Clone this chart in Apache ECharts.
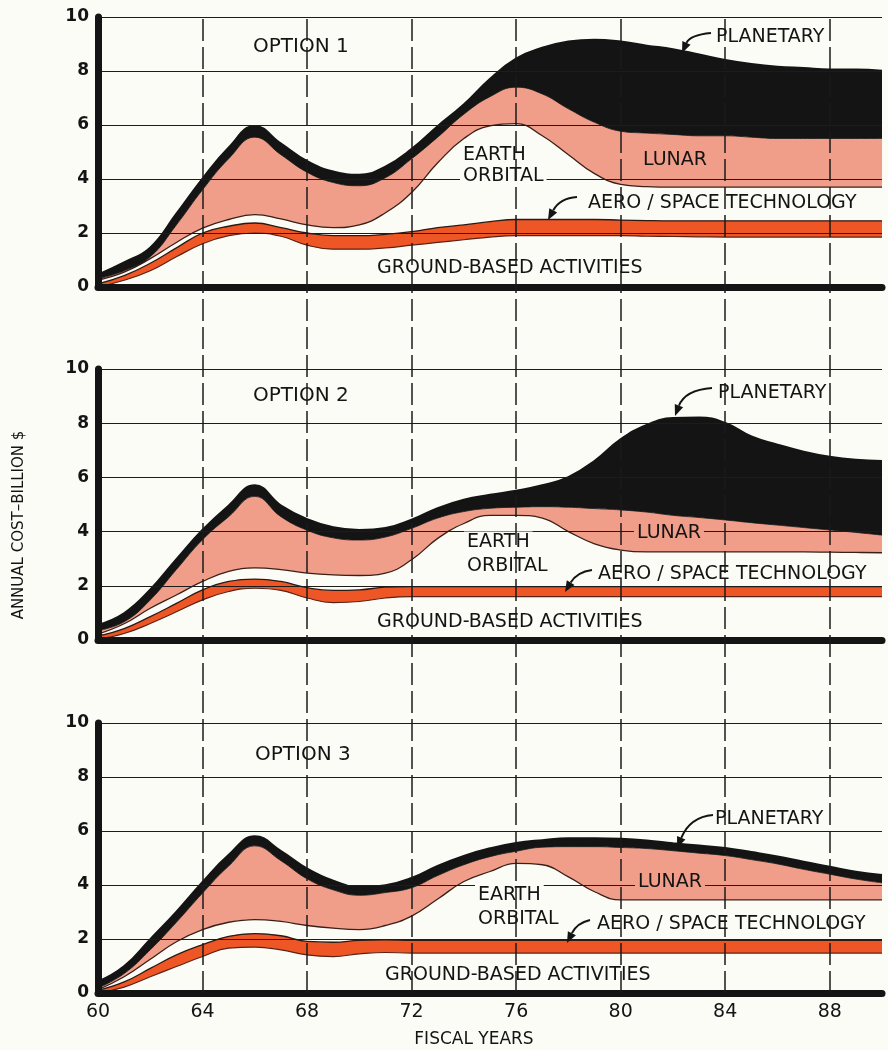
<!DOCTYPE html>
<html>
<head>
<meta charset="utf-8">
<title>Annual cost options</title>
<script src="https://cdn.jsdelivr.net/npm/echarts@6/dist/echarts.min.js"></script>
<style>
  html, body { margin: 0; padding: 0; background: #fcfcf7; }
  #chart { width: 888px; height: 1050px; }
</style>
</head>
<body>
<div id="chart"></div>
<script>
// fiscal years 60..90, one value per year
const years = ['60','61','62','63','64','65','66','67','68','69','70','71','72','73','74','75','76','77','78','79','80','81','82','83','84','85','86','87','88','89','90']
const dashYears = ['64','68','72','76','80','84','88']

// option 1 (billion $ per layer, stacked bottom to top)
const opt1Ground    = [0.00,0.25,0.60,1.12,1.60,1.90,2.00,1.88,1.55,1.40,1.40,1.45,1.55,1.65,1.75,1.85,1.90,1.90,1.90,1.90,1.90,1.88,1.87,1.86,1.85,1.85,1.85,1.85,1.85,1.85,1.85]
const opt1Aero      = [0.12,0.17,0.28,0.33,0.40,0.35,0.37,0.32,0.45,0.50,0.50,0.50,0.50,0.55,0.55,0.57,0.60,0.60,0.60,0.60,0.58,0.58,0.58,0.59,0.60,0.60,0.60,0.60,0.60,0.60,0.60]
const opt1Earth     = [0.13,0.13,0.17,0.20,0.18,0.25,0.31,0.32,0.30,0.30,0.40,0.80,1.45,2.40,3.20,3.55,3.55,3.10,2.40,1.70,1.32,1.26,1.25,1.25,1.25,1.25,1.25,1.25,1.25,1.25,1.25]
const opt1Lunar     = [0.05,0.05,0.07,0.65,1.42,2.25,2.87,2.38,1.95,1.67,1.45,1.30,1.25,0.95,0.90,1.08,1.35,1.55,1.70,1.90,1.97,1.98,1.95,1.90,1.90,1.85,1.80,1.80,1.80,1.80,1.80]
const opt1Planetary = [0.15,0.30,0.33,0.40,0.40,0.40,0.40,0.40,0.40,0.40,0.40,0.40,0.35,0.40,0.35,0.65,1.05,1.70,2.48,3.05,3.31,3.23,3.15,3.00,2.80,2.70,2.65,2.60,2.55,2.55,2.50]

// option 2
const opt2Ground    = [0.03,0.24,0.61,1.04,1.48,1.79,1.91,1.83,1.55,1.38,1.42,1.55,1.60,1.60,1.60,1.60,1.60,1.60,1.60,1.60,1.60,1.60,1.60,1.60,1.60,1.60,1.60,1.60,1.60,1.60,1.60]
const opt2Aero      = [0.12,0.18,0.25,0.31,0.37,0.37,0.34,0.33,0.38,0.45,0.43,0.40,0.37,0.37,0.37,0.37,0.37,0.37,0.37,0.37,0.37,0.37,0.37,0.37,0.37,0.37,0.37,0.37,0.37,0.37,0.37]
const opt2Earth     = [0.07,0.18,0.31,0.31,0.31,0.37,0.41,0.44,0.54,0.57,0.53,0.52,0.99,1.78,2.33,2.63,2.63,2.53,2.03,1.58,1.35,1.28,1.28,1.28,1.28,1.28,1.28,1.28,1.27,1.26,1.25]
const opt2Lunar     = [0.13,0.07,0.31,0.94,1.54,2.02,2.64,1.95,1.58,1.37,1.31,1.33,1.16,0.75,0.44,0.26,0.30,0.42,0.90,1.30,1.48,1.47,1.35,1.27,1.18,1.08,0.99,0.90,0.82,0.74,0.65]
const opt2Planetary = [0.20,0.31,0.37,0.37,0.35,0.40,0.40,0.40,0.40,0.38,0.36,0.32,0.31,0.36,0.43,0.49,0.60,0.78,1.10,1.75,2.60,3.21,3.58,3.68,3.57,3.17,2.96,2.79,2.69,2.67,2.73]

// option 3
const opt3Ground    = [0.00,0.22,0.60,0.98,1.35,1.66,1.70,1.60,1.41,1.35,1.45,1.50,1.48,1.48,1.48,1.48,1.48,1.48,1.48,1.48,1.48,1.48,1.48,1.48,1.48,1.48,1.48,1.48,1.48,1.48,1.48]
const opt3Aero      = [0.10,0.19,0.31,0.43,0.44,0.44,0.50,0.52,0.50,0.53,0.50,0.47,0.47,0.47,0.47,0.47,0.47,0.47,0.47,0.47,0.47,0.47,0.47,0.47,0.47,0.47,0.47,0.47,0.47,0.47,0.47]
const opt3Earth     = [0.02,0.19,0.34,0.49,0.56,0.52,0.52,0.53,0.59,0.52,0.40,0.53,0.90,1.53,2.18,2.55,2.85,2.80,2.35,1.80,1.50,1.50,1.50,1.50,1.50,1.50,1.50,1.50,1.50,1.50,1.50]
const opt3Lunar     = [0.06,0.12,0.35,0.72,1.35,2.08,2.73,2.25,1.73,1.42,1.27,1.22,1.05,0.87,0.62,0.55,0.45,0.65,1.12,1.67,1.94,1.90,1.82,1.73,1.64,1.49,1.33,1.13,0.95,0.77,0.63]
const opt3Planetary = [0.23,0.26,0.38,0.38,0.40,0.40,0.35,0.35,0.37,0.33,0.30,0.26,0.35,0.35,0.32,0.30,0.30,0.25,0.30,0.30,0.31,0.29,0.27,0.27,0.27,0.27,0.27,0.27,0.27,0.26,0.28]

const pageBg = '#fcfcf7'
const pink = '#f09d89'
const orange = '#ef5626'
const ink = '#141414'
const font = 'DejaVu Sans'

const panels = [
    { top: 17,  height: 270, layers: [opt1Ground, opt1Aero, opt1Earth, opt1Lunar, opt1Planetary] },
    { top: 369, height: 271, layers: [opt2Ground, opt2Aero, opt2Earth, opt2Lunar, opt2Planetary] },
    { top: 723, height: 270, layers: [opt3Ground, opt3Aero, opt3Earth, opt3Lunar, opt3Planetary] }
]

let myChart = echarts.init(document.getElementById('chart'))

let grids = panels.map(p => ({ left: 98, right: 6, top: p.top, height: p.height }))
grids.push({ left: 98, right: 6, top: 17, height: 976 })

let xAxes = panels.map((p, i) => ({
    gridIndex: i, type: 'category', data: years, boundaryGap: false, z: 3,
    axisLine: { show: true, onZero: false, lineStyle: { color: ink, width: 7 } },
    axisTick: { show: false },
    splitLine: { show: false },
    axisLabel: { show: i === 2, interval: 3, fontSize: 19, color: ink, fontFamily: font, margin: 10 }
}))
xAxes.push({ gridIndex: 3, type: 'category', data: years, boundaryGap: false, show: false })

let yAxes = panels.map((p, i) => ({
    gridIndex: i, type: 'value', min: 0, max: 10, interval: 2, z: 3,
    axisLine: { show: true, lineStyle: { color: ink, width: 7 } },
    axisTick: { show: false },
    splitLine: { show: true, lineStyle: { color: '#1c1c1c', width: 1 } },
    axisLabel: { fontSize: 17, fontWeight: 'bold', color: ink, fontFamily: font, margin: 9 }
}))
yAxes.push({ gridIndex: 3, type: 'value', min: 0, max: 1, show: false })

// layer looks, bottom to top: ground, aero/space, earth orbital, lunar, planetary
const layerNames = ['Ground-based activities', 'Aero/space technology', 'Earth orbital', 'Lunar', 'Planetary']
const layerArea = [null, orange, null, pink, ink]
const layerLine = [['#5a2216', 1.2], ['#2a1a14', 1.3], ['#3a2018', 1.3], [ink, 0.8], [ink, 2.5]]

let seriesData = []
panels.forEach((p, i) => {
    p.layers.forEach((vals, k) => {
        let s = {
            name: layerNames[k], type: 'line', xAxisIndex: i, yAxisIndex: i,
            stack: 'opt' + i, smooth: 0.45, showSymbol: false, silent: true, z: 2,
            data: vals,
            lineStyle: { color: layerLine[k][0], width: layerLine[k][1] }
        }
        if (layerArea[k]) s.areaStyle = { color: layerArea[k], opacity: 1 }
        seriesData.push(s)
    })
})

// long dashed year lines running through all three panels
seriesData.push({
    type: 'line', xAxisIndex: 3, yAxisIndex: 3, data: [0], symbol: 'none',
    lineStyle: { opacity: 0 }, z: 6, silent: true,
    markLine: {
        silent: true, symbol: ['none', 'none'], label: { show: false },
        lineStyle: { color: '#1a1a1a', width: 1.5, type: [22, 6] },
        data: dashYears.map(v => ({ xAxis: v }))
    }
})

function label(text, x, y, size, bg) {
    let style = { text: text, fill: ink, fontSize: size, fontFamily: font, align: 'left', verticalAlign: 'middle' }
    if (bg) { style.backgroundColor = bg; style.padding = [1, 3] }
    return { type: 'text', x: bg ? x - 3 : x, y: y, z: 5, silent: true, style: style }
}

function arrow(sx, sy, cx, cy, tx, ty) {
    let dx = tx - cx, dy = ty - cy
    let len = Math.hypot(dx, dy)
    let ux = dx / len, uy = dy / len
    let hl = 11, hw = 4.5
    let bx = tx - ux * hl, by = ty - uy * hl
    return [
        { type: 'bezierCurve', z: 5, silent: true,
          shape: { x1: sx, y1: sy, cpx1: cx, cpy1: cy, x2: bx, y2: by },
          style: { stroke: ink, lineWidth: 2, fill: 'none' } },
        { type: 'polygon', z: 5, silent: true,
          shape: { points: [[tx, ty], [bx - uy * hw, by + ux * hw], [bx + uy * hw, by - ux * hw]] },
          style: { fill: ink } }
    ]
}

let graphics = [
    // option 1
    label('OPTION 1', 253, 47, 20),
    label('PLANETARY', 716, 37, 19),
    label('EARTH', 463, 155, 19, pageBg),
    label('ORBITAL', 463, 176, 19, pageBg),
    label('LUNAR', 643, 160, 19, pink),
    label('AERO / SPACE TECHNOLOGY', 588, 203, 19, pageBg),
    label('GROUND-BASED ACTIVITIES', 377, 268, 19, pageBg),
    // option 2
    label('OPTION 2', 253, 396, 20),
    label('PLANETARY', 718, 393, 19),
    label('EARTH', 467, 542, 19, pageBg),
    label('ORBITAL', 467, 566, 19, pageBg),
    label('LUNAR', 637, 533, 19, pink),
    label('AERO / SPACE TECHNOLOGY', 598, 574, 19, pageBg),
    label('GROUND-BASED ACTIVITIES', 377, 622, 19, pageBg),
    // option 3
    label('OPTION 3', 255, 755, 20),
    label('PLANETARY', 715, 819, 19),
    label('EARTH', 478, 895, 19, pageBg),
    label('ORBITAL', 478, 919, 19, pageBg),
    label('LUNAR', 638, 882, 19, pink),
    label('AERO / SPACE TECHNOLOGY', 597, 924, 19, pageBg),
    label('GROUND-BASED ACTIVITIES', 385, 975, 19, pageBg),
    // axis titles
    { type: 'text', x: 474, y: 1040, silent: true,
      style: { text: 'FISCAL YEARS', fill: ink, fontSize: 17, fontFamily: font, align: 'center', verticalAlign: 'middle' } },
    { type: 'text', x: 19, y: 525, rotation: Math.PI / 2, silent: true,
      style: { text: 'ANNUAL COST–BILLION $', fill: ink, fontSize: 15, fontFamily: font, align: 'center', verticalAlign: 'middle' } }
]
graphics = graphics
    .concat(arrow(711, 33, 690, 35, 682, 53))
    .concat(arrow(712, 388, 685, 390, 675, 416))
    .concat(arrow(713, 815, 690, 817, 677, 848))
    .concat(arrow(577, 197, 560, 198, 548, 220))
    .concat(arrow(592, 570, 577, 572, 565, 592))
    .concat(arrow(590, 920, 577, 923, 567, 943))

let option = {
    animation: false,
    backgroundColor: pageBg,
    grid: grids,
    xAxis: xAxes,
    yAxis: yAxes,
    series: seriesData,
    graphic: { z: 5, elements: graphics }
}
myChart.setOption(option)
window.addEventListener('resize', function() {
    myChart.resize()
})
</script>
</body>
</html>
